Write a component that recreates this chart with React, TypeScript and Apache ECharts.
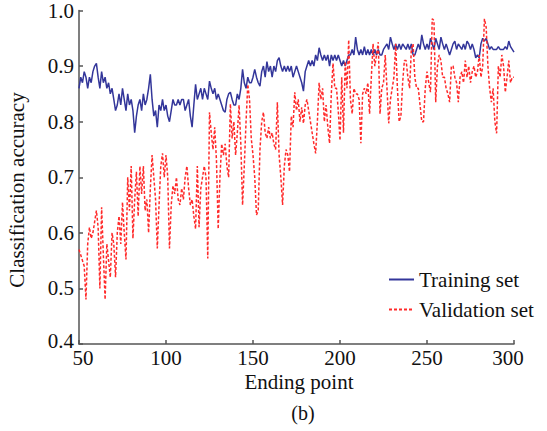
import React, { useEffect, useRef } from "react";
import * as echarts from "echarts";

const endingPoints: number[] = Array.from({ length: 251 }, (_, i) => 50 + i);

const trainingAccuracy: number[] = [
  0.86, 0.88, 0.87, 0.89, 0.88, 0.86, 0.88, 0.87, 0.89, 0.9,
  0.905, 0.88, 0.86, 0.89, 0.87, 0.88, 0.86, 0.87, 0.85, 0.86,
  0.84, 0.82, 0.83, 0.85, 0.83, 0.86, 0.84, 0.82, 0.85, 0.83,
  0.84, 0.82, 0.78, 0.81, 0.83, 0.84, 0.82, 0.85, 0.83, 0.84,
  0.86, 0.885, 0.84, 0.81, 0.82, 0.79, 0.83, 0.82, 0.84, 0.82,
  0.83, 0.81, 0.8, 0.82, 0.84, 0.83, 0.83, 0.84, 0.83, 0.84,
  0.84, 0.82, 0.83, 0.84, 0.81, 0.79, 0.83, 0.867, 0.84, 0.85,
  0.86, 0.84, 0.86, 0.85, 0.84, 0.873, 0.86, 0.85, 0.86, 0.84,
  0.85, 0.84, 0.83, 0.82, 0.817, 0.84, 0.85, 0.853, 0.84, 0.83,
  0.83, 0.85, 0.84, 0.86, 0.894, 0.87, 0.86, 0.88, 0.87, 0.87,
  0.88, 0.894, 0.88, 0.87, 0.864, 0.89, 0.9, 0.88, 0.908, 0.89,
  0.9, 0.88, 0.9, 0.89, 0.91, 0.915, 0.9, 0.89, 0.9, 0.89,
  0.9, 0.89, 0.9, 0.88, 0.89, 0.9, 0.89, 0.88, 0.87, 0.855,
  0.89, 0.9, 0.91, 0.9, 0.91, 0.9, 0.92, 0.91, 0.933, 0.92,
  0.91, 0.92, 0.91, 0.92, 0.9, 0.92, 0.91, 0.92, 0.91, 0.92,
  0.91, 0.9, 0.91, 0.9, 0.91, 0.92, 0.92, 0.93, 0.92, 0.952,
  0.93, 0.92, 0.93, 0.92, 0.935, 0.92, 0.93, 0.92, 0.93, 0.92,
  0.93, 0.92, 0.93, 0.92, 0.92, 0.93, 0.935, 0.94, 0.93, 0.952,
  0.94, 0.93, 0.94, 0.93, 0.94, 0.93, 0.94, 0.935, 0.93, 0.94,
  0.93, 0.94, 0.92, 0.92, 0.93, 0.94, 0.93, 0.956, 0.94, 0.93,
  0.94, 0.93, 0.95, 0.94, 0.93, 0.95, 0.94, 0.93, 0.952, 0.94,
  0.93, 0.94, 0.93, 0.92, 0.93, 0.94, 0.945, 0.93, 0.94, 0.935,
  0.93, 0.94, 0.93, 0.945, 0.94, 0.93, 0.94, 0.93, 0.915, 0.92,
  0.915, 0.94, 0.95, 0.945, 0.95, 0.94, 0.93, 0.935, 0.93, 0.93,
  0.93, 0.935, 0.93, 0.93, 0.93, 0.935, 0.93, 0.945, 0.935, 0.93,
  0.925,
];

const validationAccuracy: number[] = [
  0.57, 0.56, 0.55, 0.54, 0.48, 0.58, 0.61, 0.59, 0.6, 0.62,
  0.64, 0.61, 0.5, 0.646, 0.56, 0.48, 0.58, 0.55, 0.52, 0.6,
  0.58, 0.52, 0.6, 0.63, 0.58, 0.655, 0.6, 0.552, 0.7, 0.64,
  0.72, 0.59, 0.66, 0.71, 0.63, 0.72, 0.67, 0.72, 0.64, 0.66,
  0.6, 0.68, 0.74, 0.7, 0.66, 0.572, 0.65, 0.72, 0.743, 0.7,
  0.74, 0.7, 0.572, 0.65, 0.685, 0.67, 0.7, 0.66, 0.65, 0.68,
  0.66, 0.7, 0.72, 0.68, 0.65, 0.66, 0.63, 0.607, 0.72, 0.61,
  0.68, 0.7, 0.72, 0.7, 0.554, 0.817, 0.78, 0.75, 0.79, 0.73,
  0.607, 0.7, 0.76, 0.74, 0.76, 0.72, 0.7, 0.832, 0.77, 0.8,
  0.74, 0.78, 0.83, 0.76, 0.65, 0.72, 0.8, 0.867, 0.84, 0.77,
  0.74, 0.7, 0.632, 0.64, 0.75, 0.8, 0.817, 0.78, 0.77, 0.79,
  0.77, 0.78, 0.76, 0.75, 0.835, 0.74, 0.7, 0.65, 0.72, 0.75,
  0.74, 0.71, 0.81, 0.79, 0.853, 0.82, 0.84, 0.8, 0.826, 0.797,
  0.83, 0.84, 0.82, 0.8, 0.78, 0.76, 0.743, 0.8, 0.87, 0.84,
  0.86, 0.8, 0.83, 0.79, 0.761, 0.85, 0.905, 0.86, 0.86, 0.82,
  0.766, 0.88, 0.78, 0.908, 0.86, 0.947, 0.84, 0.814, 0.86, 0.85,
  0.85, 0.84, 0.761, 0.85, 0.86, 0.85, 0.87, 0.814, 0.88, 0.94,
  0.9, 0.92, 0.943, 0.814, 0.86, 0.87, 0.92, 0.86, 0.797, 0.84,
  0.86, 0.88, 0.94, 0.86, 0.8, 0.81, 0.87, 0.91, 0.91, 0.88,
  0.86, 0.93, 0.94, 0.88, 0.86, 0.86, 0.83, 0.8, 0.8, 0.86,
  0.89, 0.87, 0.853, 0.985, 0.982, 0.835, 0.9, 0.92, 0.91, 0.88,
  0.88, 0.86, 0.85, 0.835, 0.9, 0.9, 0.88, 0.87, 0.835, 0.88,
  0.89, 0.87, 0.91, 0.88, 0.9, 0.87, 0.89, 0.9, 0.88, 0.89,
  0.92, 0.88, 0.9, 0.985, 0.97, 0.9, 0.86, 0.835, 0.86, 0.8,
  0.779, 0.9, 0.88, 0.92, 0.9, 0.853, 0.88, 0.91, 0.87, 0.88,
  0.88,
];

const xTicks = { min: 50, max: 300, interval: 50 };
const yTicks = { min: 0.4, max: 1.0, interval: 0.1 };

const FONT = "Liberation Serif";
const AXIS_COLOR = "#555555";
const TEXT_COLOR = "#111111";

export default function App() {
  const ref = useRef<HTMLDivElement>(null);

  useEffect(() => {
    if (!ref.current) return;
    const chart = echarts.init(ref.current, undefined, { renderer: "svg" });
    const trainData = endingPoints.map((x, i) => [x, trainingAccuracy[i]]);
    const valData = endingPoints.map((x, i) => [x, validationAccuracy[i]]);

    const tickText = { fontFamily: FONT, fontSize: 21, color: TEXT_COLOR };

    chart.setOption({
      animation: false,
      backgroundColor: "#ffffff",
      textStyle: { fontFamily: FONT },
      grid: { left: 79, right: 33, top: 5, bottom: 87, containLabel: false },
      legend: {
        orient: "vertical",
        left: 383,
        top: 264,
        itemWidth: 25,
        itemHeight: 14,
        itemGap: 9,
        itemStyle: { opacity: 0 },
        textStyle: { fontFamily: FONT, fontSize: 21, color: TEXT_COLOR },
        data: ["Training set", "Validation set"],
      },
      xAxis: {
        type: "value",
        min: xTicks.min,
        max: xTicks.max,
        interval: xTicks.interval,
        axisLine: { show: true, onZero: false, lineStyle: { color: AXIS_COLOR, width: 1.5 } },
        axisTick: { show: true, inside: true, length: 4, lineStyle: { color: AXIS_COLOR, width: 1.5 } },
        axisLabel: {
          ...tickText,
          margin: 3,
          formatter: (v: number) =>
            v === xTicks.min ? `{first|${v}}` : v === xTicks.max ? `{last|${v}}` : `${v}`,
          rich: {
            first: { ...tickText, padding: [0, 0, 0, 8] },
            last: { ...tickText, padding: [0, 12, 0, 0] },
          },
        },
        splitLine: { show: false },
      },
      yAxis: {
        type: "value",
        min: yTicks.min,
        max: yTicks.max,
        interval: yTicks.interval,
        axisLine: { show: true, onZero: false, lineStyle: { color: AXIS_COLOR, width: 1.5 } },
        axisTick: { show: true, inside: true, length: 4, lineStyle: { color: AXIS_COLOR, width: 1.5 } },
        axisLabel: {
          ...tickText,
          margin: 5,
          formatter: (v: number) =>
            Math.abs(v - yTicks.min) < 1e-9 ? `{low|${v.toFixed(1)}}` : v.toFixed(1),
          rich: {
            low: { ...tickText, padding: [0, 0, 6, 0] },
          },
        },
        splitLine: { show: false },
      },
      graphic: [
        {
          type: "text",
          x: 17,
          y: 190,
          rotation: Math.PI / 2,
          style: {
            text: "Classification accuracy",
            fontFamily: FONT,
            fontSize: 21,
            fill: TEXT_COLOR,
            align: "center",
            verticalAlign: "middle",
          },
        },
        {
          type: "text",
          x: 299,
          y: 382,
          style: {
            text: "Ending point",
            fontFamily: FONT,
            fontSize: 21,
            fill: TEXT_COLOR,
            align: "center",
            verticalAlign: "middle",
          },
        },
        {
          type: "text",
          x: 303,
          y: 413,
          style: {
            text: "(b)",
            fontFamily: FONT,
            fontSize: 20,
            fill: TEXT_COLOR,
            align: "center",
            verticalAlign: "middle",
          },
        },
      ],
      series: [
        {
          name: "Training set",
          type: "line",
          data: trainData,
          symbol: "none",
          color: "#33369a",
          lineStyle: { color: "#33369a", width: 1.5 },
          z: 2,
        },
        {
          name: "Validation set",
          type: "line",
          data: valData,
          symbol: "none",
          color: "#ff2a2a",
          lineStyle: { color: "#ff2a2a", width: 1.5, type: [3, 2] },
          z: 3,
        },
      ],
    });

    return () => chart.dispose();
  }, []);

  return <div ref={ref} style={{ width: 547, height: 431, position: "absolute", left: 0, top: 0 }} />;
}
